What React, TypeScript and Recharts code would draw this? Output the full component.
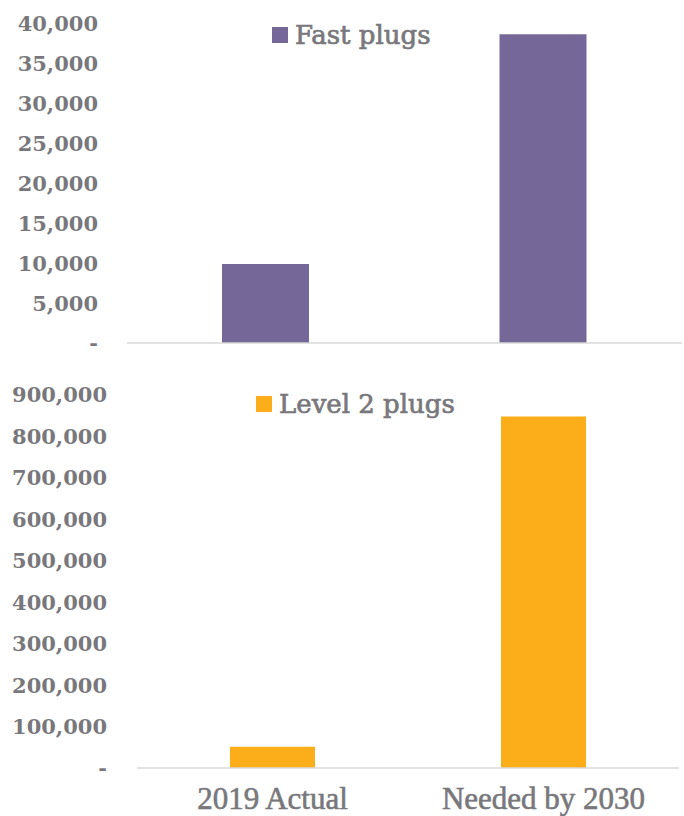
import { BarChart, Bar, XAxis, YAxis, Legend } from "recharts"

const categories = ["2019 Actual", "Needed by 2030"]
const fastPlugs = [9900, 38700]
const level2Plugs = [51000, 848000]
const fastTicks = [0, 5000, 10000, 15000, 20000, 25000, 30000, 35000, 40000]
const level2Ticks = [0, 100000, 200000, 300000, 400000, 500000, 600000, 700000, 800000, 900000]

const PURPLE = "#756898"
const ORANGE = "#FBAE1A"
const GRAY = "#78787c"
const LINE = "#d9d9d9"

const fastData = categories.map((name, i) => ({ name, value: fastPlugs[i] }))
const level2Data = categories.map((name, i) => ({ name, value: level2Plugs[i] }))

const fmt = (v: number) => (v === 0 ? "-" : v.toLocaleString("en-US"))

const tickStyle = {
  fontSize: 21,
  fontFamily: "DejaVu Serif",
  fontWeight: 700,
  fill: GRAY
}

function LegendBox({ color, label }: { color: string; label: string }) {
  return (
    <div style={{ display: "flex", alignItems: "center", gap: 7 }}>
      <div style={{ width: 16, height: 16, background: color }} />
      <span
        style={{
          fontFamily: "DejaVu Serif",
          fontSize: 26,
          color: GRAY,
          WebkitTextStroke: "0.7px " + GRAY,
          whiteSpace: "nowrap"
        }}
      >
        {label}
      </span>
    </div>
  )
}

export default function App() {
  return (
    <div style={{ position: "absolute", left: 0, top: 0, width: 684, height: 816, background: "#fff" }}>

      <BarChart
        width={684}
        height={370}
        data={fastData}
        margin={{ top: 24, right: 2, left: 0, bottom: 0 }}
      >
        <XAxis
          dataKey="name"
          tick={false}
          tickLine={false}
          height={27}
          axisLine={{ stroke: LINE, strokeWidth: 1.5 }}
        />
        <YAxis
          width={127}
          domain={[0, 40000]}
          ticks={fastTicks}
          interval={0}
          tickFormatter={fmt}
          axisLine={false}
          tickLine={false}
          tickSize={0}
          tickMargin={29}
          tick={tickStyle}
        />
        <Legend
          layout="horizontal"
          verticalAlign="middle"
          align="center"
          wrapperStyle={{ top: 20, left: 272, width: "auto" }}
          content={() => <LegendBox color={PURPLE} label="Fast plugs" />}
        />
        <Bar dataKey="value" name="Fast plugs" fill={PURPLE} barSize={87} isAnimationActive={false} />
      </BarChart>

      <BarChart
        width={684}
        height={446}
        data={level2Data}
        margin={{ top: 25, right: 5, left: 0, bottom: 0 }}
      >
        <XAxis
          dataKey="name"
          height={48}
          tickLine={false}
          tickSize={0}
          tickMargin={19}
          interval={0}
          axisLine={{ stroke: LINE, strokeWidth: 1.5 }}
          tick={{
            fontSize: 31,
            fontFamily: "Liberation Serif",
            fill: GRAY,
            stroke: GRAY,
            strokeWidth: 0.6
          }}
        />
        <YAxis
          width={137}
          domain={[0, 900000]}
          ticks={level2Ticks}
          interval={0}
          tickFormatter={fmt}
          axisLine={false}
          tickLine={false}
          tickSize={0}
          tickMargin={30}
          tick={tickStyle}
        />
        <Legend
          layout="horizontal"
          verticalAlign="middle"
          align="center"
          wrapperStyle={{ top: 19, left: 256, width: "auto" }}
          content={() => <LegendBox color={ORANGE} label="Level 2 plugs" />}
        />
        <Bar dataKey="value" name="Level 2 plugs" fill={ORANGE} barSize={85} isAnimationActive={false} />
      </BarChart>

    </div>
  )
}
